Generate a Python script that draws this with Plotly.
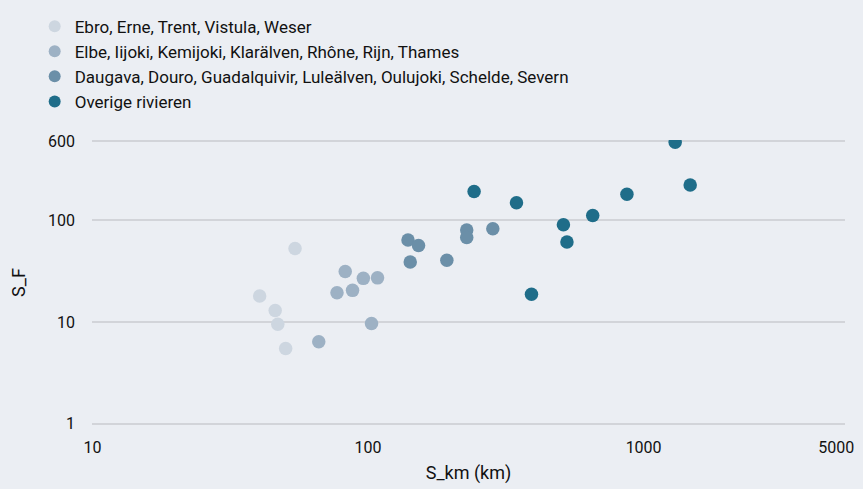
import plotly.graph_objects as go
import math

# ---- data ----
names = [
    "Ebro, Erne, Trent, Vistula, Weser",
    "Elbe, Iijoki, Kemijoki, Klarälven, Rhône, Rijn, Thames",
    "Daugava, Douro, Guadalquivir, Luleälven, Oulujoki, Schelde, Severn",
    "Overige rivieren",
]
s1_km = [40.4, 46.0, 47.0, 54.3, 50.2]
s1_f = [18.0, 13.0, 9.5, 53.0, 5.5]
s2_km = [77.1, 82.6, 87.8, 96.1, 108.2, 102.9, 66.2]
s2_f = [19.4, 31.4, 20.5, 26.9, 27.2, 9.7, 6.4]
s3_km = [139.6, 152.4, 142.2, 193.1, 228.0, 228.0, 283.6]
s3_f = [64.1, 56.5, 38.9, 40.6, 80.4, 67.9, 82.7]
s4_km = [242.5, 345.6, 391.8, 511.6, 527.0, 653.6, 869.9, 1302.0, 1476.0]
s4_f = [192.7, 149.0, 18.8, 90.4, 61.4, 111.9, 180.4, 587.0, 222.9]

x_ticks = [10, 100, 1000, 5000]
y_ticks = [1, 10, 100, 600]

colors = ["#cdd6e0", "#9db1c4", "#6b8fa8", "#1f6d89"]
xs = [s1_km, s2_km, s3_km, s4_km]
ys = [s1_f, s2_f, s3_f, s4_f]

FONT = "Roboto, sans-serif"
BG = "#ebeef3"

fig = go.Figure()
for n, c, x, y in zip(names, colors, xs, ys):
    fig.add_trace(go.Scatter(
        x=x, y=y, mode="markers", name=n,
        marker=dict(size=13.5, color=c, line=dict(width=0)),
    ))

W, H = 863, 489
L, R, T, B = 92, 9, 136, 58
pw = W - L - R
ph = H - T - B
ypad = 0.0125

fig.update_layout(
    width=W, height=H,
    margin=dict(l=L, r=R, t=T, b=B),
    paper_bgcolor=BG, plot_bgcolor=BG,
    font=dict(family=FONT, size=16, color="#111111"),
    showlegend=True,
    legend=dict(
        x=(34 - L) / pw, xanchor="left",
        y=1 + T / ph, yanchor="top",
        bgcolor="rgba(0,0,0,0)",
        font=dict(size=17, family=FONT, color="#111111"),
        itemsizing="constant",
        tracegroupgap=0,
    ),
    xaxis=dict(
        type="log",
        range=[math.log10(9.95), 3.731],
        tickvals=x_ticks, ticktext=[str(v) for v in x_ticks],
        showgrid=False, zeroline=False, showline=False,
        ticks="", tickfont=dict(size=16),
        ticklabelstandoff=11,
        ticklabeloverflow="allow",
        title=dict(text="S_km (km)", font=dict(size=18), standoff=10),
    ),
    yaxis=dict(
        type="log",
        range=[-ypad, math.log10(600) + ypad],
        tickvals=y_ticks, ticktext=[str(v) for v in y_ticks],
        showgrid=True, gridcolor="#d2d4d9", gridwidth=2,
        zeroline=False, showline=False,
        ticks="", tickfont=dict(size=16),
        ticklabelstandoff=16,
        title=dict(text="S_F", font=dict(size=18), standoff=17),
    ),
)

fig.write_html(
    "out.html",
    config={"displayModeBar": False},
    post_script="document.body.style.margin='0';document.body.style.background='#ebeef3';",
)
